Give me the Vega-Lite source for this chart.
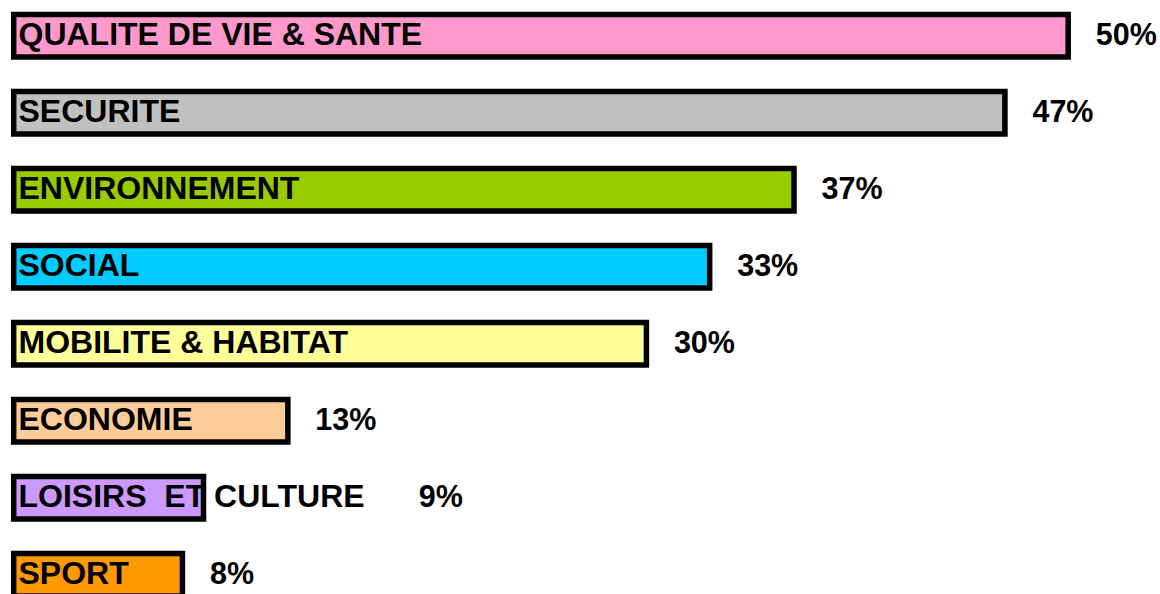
{
  "$schema": "https://vega.github.io/schema/vega-lite/v6.json",
  "width": 1160,
  "height": 594,
  "autosize": "none",
  "padding": 0,
  "background": "white",
  "config": {"view": {"stroke": null}},
  "data": {
    "values": [
      {"cat": "QUALITE DE VIE & SANTE", "value": 50, "color": "#FF99CC"},
      {"cat": "SECURITE", "value": 47, "color": "#C0C0C0"},
      {"cat": "ENVIRONNEMENT", "value": 37, "color": "#99CC00"},
      {"cat": "SOCIAL", "value": 33, "color": "#00CCFF"},
      {"cat": "MOBILITE & HABITAT", "value": 30, "color": "#FFFF99"},
      {"cat": "ECONOMIE", "value": 13, "color": "#FFCC99"},
      {"cat": "LOISIRS\u00a0 ET CULTURE", "value": 9, "color": "#CC99FF"},
      {"cat": "SPORT", "value": 8, "color": "#FF9900"}
    ]
  },
  "transform": [
    {"calculate": "datum.value + '%'", "as": "label"},
    {"calculate": "datum.value == 9 ? 17.9 : datum.value", "as": "labelAt"}
  ],
  "encoding": {
    "y": {
      "field": "cat",
      "type": "nominal",
      "sort": null,
      "axis": null,
      "scale": {"range": [14.5, 596], "paddingInner": 0.448, "paddingOuter": 0}
    }
  },
  "layer": [
    {
      "mark": {"type": "bar", "stroke": "black", "strokeWidth": 5.5, "cornerRadius": 0},
      "encoding": {
        "x": {"field": "value", "type": "quantitative", "axis": null, "scale": {"domain": [0, 50], "range": [13.7, 1068.2]}},
        "fill": {"field": "color", "type": "nominal", "scale": null, "legend": null}
      }
    },
    {
      "mark": {"type": "text", "align": "left", "baseline": "alphabetic", "dx": 4.8, "dy": 9.4, "font": "Liberation Sans", "fontWeight": "bold", "fontSize": 32, "color": "black"},
      "encoding": {
        "x": {"datum": 0, "type": "quantitative"},
        "text": {"field": "cat"}
      }
    },
    {
      "mark": {"type": "text", "align": "left", "baseline": "alphabetic", "dx": 27.5, "dy": 9.2, "font": "Liberation Sans", "fontWeight": "bold", "fontSize": 30.5, "color": "black"},
      "encoding": {
        "x": {"field": "labelAt", "type": "quantitative"},
        "text": {"field": "label"}
      }
    }
  ]
}
